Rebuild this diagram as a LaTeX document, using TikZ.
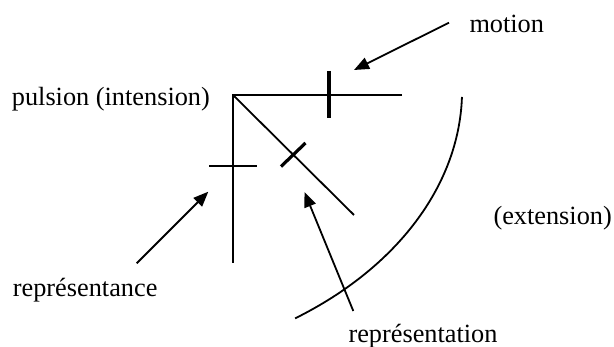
\documentclass[tikz,border=0pt]{standalone}
\usepackage{fontspec}
\setmainfont{Liberation Serif}
\usetikzlibrary{arrows.meta}
\begin{document}
\begin{tikzpicture}[x=1pt,y=-1pt,
  lbl/.style={inner sep=0pt,anchor=base west,font=\fontsize{26.3}{30}\selectfont},
  main/.style={line width=1.8pt},
  tickthick/.style={line width=3.2pt},
  tickthin/.style={line width=1.8pt},
  pointer/.style={line width=1.8pt,-{Triangle[length=15pt,width=12pt]}}]
\useasboundingbox (0,0) rectangle (614,347);
% texts
\node[lbl] (pulsion) at (11.7,106) {pulsion (intension)};
\node[lbl] (motion) at (469.3,33) {motion};
\node[lbl] (extension) at (493.3,225) {(extension)};
\node[lbl] (reprance) at (12.7,296.7) {représentance};
\node[lbl] (reprtion) at (348.3,342.5) {représentation};
% main figure
\coordinate (O) at (233,95);
\coordinate (H) at (402,95);
\coordinate (V) at (233,263);
\coordinate (D) at (354,215);
\draw[main] (H) -- (O) -- (V);
\draw[main] (O) -- (D);
% ticks
\coordinate (t1a) at (329,71);
\coordinate (t1b) at (329,118.5);
\draw[tickthick] (t1a) -- (t1b);
\coordinate (t2a) at (209,166);
\coordinate (t2b) at (257,166);
\draw[tickthin] (t2a) -- (t2b);
\coordinate (t3a) at (281,166.5);
\coordinate (t3b) at (305.5,143);
\draw[tickthick] (t3a) -- (t3b);
% arc (part of an ellipse)
\coordinate (arcA) at (461.96,96.98);
\draw[main] (arcA) arc[start angle=1.44, end angle=55.3, x radius=387.7, y radius=277.8];
% arrows
\coordinate (mtail) at (449,22.7);
\coordinate (mtip) at (354,70);
\draw[pointer] (mtail) -- (mtip);
\coordinate (atail) at (136.7,263.3);
\coordinate (atip) at (208.3,191.7);
\draw[pointer] (atail) -- (atip);
\coordinate (rtail) at (353.3,311);
\coordinate (rtip) at (304.5,192);
\draw[pointer] (rtail) -- (rtip);
\end{tikzpicture}
\end{document}
